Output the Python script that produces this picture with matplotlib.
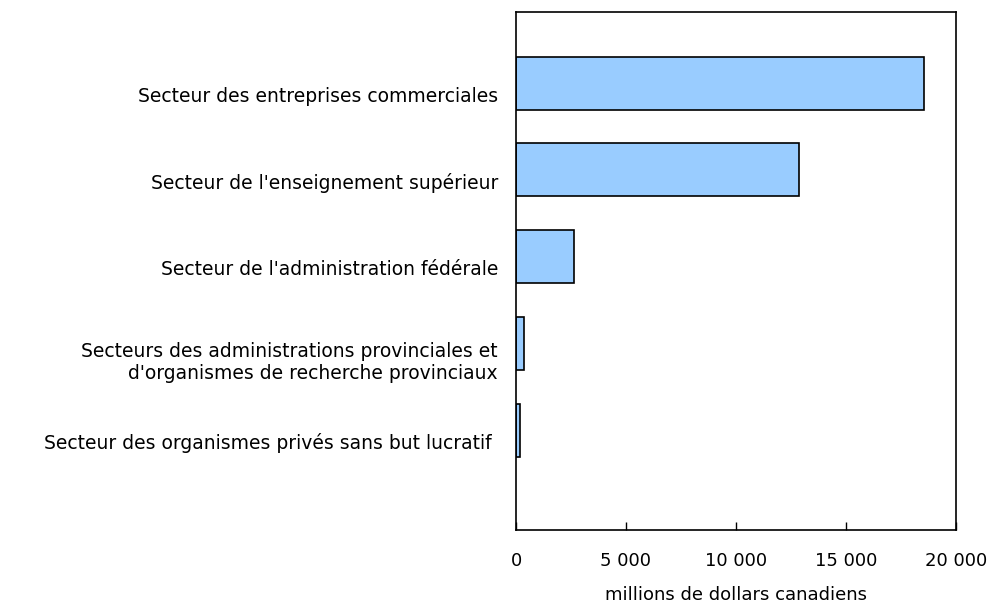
import matplotlib
matplotlib.use('Agg')
import matplotlib.pyplot as plt
from matplotlib.ticker import FuncFormatter
from matplotlib.transforms import ScaledTranslation

categories = [
    "Secteur des entreprises commerciales",
    "Secteur de l'enseignement supérieur",
    "Secteur de l'administration fédérale",
    "Secteurs des administrations provinciales et\nd'organismes de recherche provinciaux",
    "Secteur des organismes privés sans but lucratif ",
]
values = [18550, 12880, 2630, 360, 170]
ticks = [0, 5000, 10000, 15000, 20000]

plt.rcParams['font.family'] = ['DejaVu Sans']

fig = plt.figure(figsize=(9.93, 6.07), dpi=100)
ax = fig.add_axes([516/993, 1-530/607, 440/993, 518/607])

pos = list(range(len(categories)))
ax.barh(pos, values, height=0.61, color='#99ccff', edgecolor='black', linewidth=1.2)

ax.set_ylim(5.15, -0.82)
ax.set_xlim(0, 20000)
ax.set_yticks(pos)
ax.set_yticklabels(categories, fontsize=13.5, ha='right', multialignment='right', linespacing=1.2)
ax.tick_params(axis='y', length=0, pad=13)
# labels sit a bit below the bar centres in the original
for lab in ax.get_yticklabels():
    dy = 0.16 if '\n' in lab.get_text() else 0.11
    lab.set_transform(lab.get_transform() + ScaledTranslation(0, -dy, fig.dpi_scale_trans))
ax.set_xticks(ticks)
ax.xaxis.set_major_formatter(FuncFormatter(lambda v, p: f"{int(v):,}".replace(',', ' ')))
ax.tick_params(axis='x', direction='in', length=6, width=1, labelsize=13, pad=16)
ax.set_xlabel('millions de dollars canadiens', fontsize=13, labelpad=11)
for s in ax.spines.values():
    s.set_linewidth(1.2)

fig.savefig('out.png', dpi=100)
